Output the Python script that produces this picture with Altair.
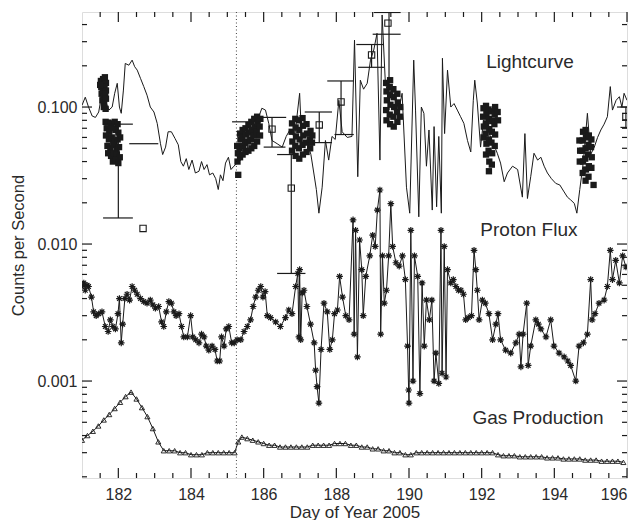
import altair as alt
import pandas as pd

# ---------------- data ----------------
lc_day = [181.00,181.09,181.18,181.28,181.37,181.46,181.53,181.64,181.74,181.83,181.90,181.97,182.03,182.08,182.14,182.19,
          182.29,182.38,182.45,182.52,182.61,182.70,182.79,182.88,182.98,183.07,183.16,183.22,183.30,183.37,183.46,183.56,
          183.65,183.72,183.79,183.87,183.94,184.03,184.12,184.22,184.29,184.36,184.44,184.51,184.60,184.68,184.75,184.81,
          184.88,184.95,185.03,185.10,185.18,185.27,185.37,185.46,185.55,185.64,185.73,185.83,185.95,186.05,186.14,186.23,
          186.37,186.51,186.62,186.72,186.85,186.99,187.05,187.19,187.30,187.38,187.45,187.52,187.61,187.70,187.79,187.88,
          187.97,188.07,188.16,188.30,188.43,188.50,188.59,188.66,188.75,188.85,188.94,189.03,189.12,189.20,189.26,189.35,
          189.45,189.55,189.65,189.72,189.81,189.93,190.02,190.13,190.18,190.27,190.34,190.41,190.48,190.55,190.64,190.69,
          190.76,190.82,190.89,190.92,190.98,191.06,191.15,191.24,191.33,191.42,191.51,191.61,191.70,191.77,191.81,191.88,
          191.97,192.05,192.15,192.25,192.35,192.43,192.52,192.62,192.71,192.85,192.99,193.12,193.19,193.26,193.35,193.44,
          193.54,193.63,193.72,193.81,193.92,194.04,194.15,194.27,194.36,194.45,194.55,194.62,194.70,194.80,194.91,195.00,
          195.10,195.19,195.28,195.37,195.46,195.54,195.60,195.70,195.79,195.86,195.92,196.00]
lc_val = [0.103,0.118,0.100,0.086,0.084,0.092,0.118,0.112,0.095,0.100,0.126,0.149,0.100,0.090,0.133,0.208,
          0.202,0.220,0.197,0.186,0.162,0.141,0.122,0.100,0.092,0.076,0.054,0.045,0.051,0.066,0.066,0.059,
          0.053,0.040,0.037,0.042,0.035,0.041,0.033,0.034,0.040,0.035,0.038,0.032,0.033,0.030,0.025,0.032,
          0.029,0.039,0.043,0.035,0.037,0.039,0.041,0.0485,0.054,0.061,0.072,0.080,0.098,0.095,0.076,0.057,
          0.054,0.051,0.061,0.068,0.060,0.126,0.055,0.057,0.045,0.033,0.025,0.0168,0.026,0.057,0.041,0.061,
          0.058,0.112,0.066,0.060,0.061,0.308,0.031,0.157,0.135,0.149,0.220,0.261,0.345,0.041,0.470,0.149,
          0.120,0.140,0.110,0.095,0.126,0.026,0.0168,0.220,0.095,0.0158,0.100,0.090,0.037,0.068,0.0177,0.072,
          0.0187,0.061,0.0168,0.227,0.064,0.186,0.100,0.106,0.095,0.085,0.076,0.057,0.047,0.112,0.157,0.107,
          0.051,0.080,0.070,0.060,0.052,0.046,0.039,0.0285,0.033,0.037,0.035,0.022,0.064,0.0215,0.031,0.046,
          0.041,0.043,0.037,0.033,0.030,0.0277,0.027,0.024,0.022,0.021,0.0198,0.0168,0.025,0.040,0.090,0.045,
          0.051,0.060,0.068,0.075,0.085,0.141,0.095,0.112,0.119,0.100,0.126,0.112]

pf_day = [181.00,181.05,181.09,181.14,181.18,181.26,181.32,181.39,181.46,181.55,181.64,181.72,181.78,181.85,181.92,181.99,
          182.03,182.08,182.12,182.18,182.24,182.31,182.38,182.45,182.52,182.61,182.70,182.79,182.88,182.95,183.02,183.11,
          183.19,183.25,183.32,183.39,183.46,183.53,183.59,183.67,183.74,183.80,183.90,183.99,184.05,184.13,184.22,184.29,
          184.36,184.42,184.49,184.58,184.66,184.72,184.79,184.84,184.91,184.97,185.04,185.12,185.19,185.27,185.37,185.46,
          185.55,185.64,185.71,185.78,185.85,185.92,185.98,186.04,186.10,186.19,186.33,186.46,186.60,186.69,186.78,186.88,
          186.94,186.97,186.99,187.02,187.06,187.11,187.19,187.29,187.39,187.43,187.47,187.52,187.58,187.66,187.75,187.82,
          187.89,187.95,188.03,188.09,188.17,188.26,188.35,188.46,188.49,188.53,188.58,188.64,188.70,188.74,188.81,188.92,
          189.00,189.07,189.13,189.20,189.22,189.27,189.32,189.38,189.44,189.50,189.55,189.64,189.73,189.82,189.90,189.96,
          189.99,190.00,190.05,190.11,190.15,190.24,190.30,190.36,190.42,190.48,190.56,190.63,190.69,190.74,190.82,190.88,
          190.91,190.97,191.02,191.06,191.15,191.22,191.29,191.36,191.43,191.50,191.56,191.63,191.72,191.79,191.84,191.88,
          191.93,192.02,192.10,192.20,192.30,192.39,192.45,192.52,192.66,192.80,192.94,193.03,193.08,193.14,193.24,193.28,
          193.35,193.49,193.56,193.63,193.77,193.90,193.99,194.13,194.27,194.37,194.45,194.59,194.68,194.80,194.91,195.00,
          195.04,195.12,195.23,195.37,195.46,195.54,195.60,195.69,195.79,195.88,195.97]
pf_val = [0.0049,0.0052,0.0046,0.0050,0.0049,0.0041,0.0032,0.0030,0.0031,0.0032,0.0025,0.0023,0.0028,0.0025,0.0024,0.0031,
          0.0040,0.0019,0.0026,0.0040,0.0043,0.0039,0.0049,0.0046,0.0043,0.0040,0.0038,0.0037,0.0039,0.0036,0.0034,0.0035,
          0.0027,0.0025,0.0032,0.0038,0.0037,0.0032,0.0030,0.0031,0.0025,0.0021,0.0021,0.0030,0.0021,0.0020,0.0019,0.0022,
          0.0021,0.0018,0.00168,0.0018,0.0017,0.0014,0.0014,0.0021,0.0018,0.0024,0.0025,0.0019,0.0019,0.0020,0.0020,0.0023,
          0.0025,0.0028,0.0035,0.0041,0.0046,0.0049,0.0041,0.0045,0.0030,0.0029,0.0027,0.0025,0.0029,0.0033,0.0031,0.0049,
          0.0061,0.0021,0.0065,0.0020,0.0044,0.0046,0.0035,0.0026,0.0019,0.0012,0.00091,0.00069,0.0017,0.0037,0.0032,0.0017,
          0.0020,0.0031,0.0033,0.0058,0.0041,0.0030,0.0028,0.015,0.0022,0.0126,0.0015,0.0107,0.0065,0.0030,0.0058,0.0082,
          0.0116,0.0096,0.0177,0.0248,0.0022,0.0082,0.0037,0.0046,0.0082,0.0197,0.0096,0.0073,0.0069,0.0082,0.0055,0.0018,
          0.00086,0.00069,0.0126,0.0010,0.0082,0.0058,0.00081,0.0052,0.0018,0.0039,0.0028,0.0039,0.0010,0.0016,0.00096,0.0126,
          0.00114,0.0096,0.00107,0.0065,0.0052,0.0055,0.0049,0.0046,0.0046,0.0043,0.0028,0.0029,0.0030,0.0090,0.0065,0.0046,
          0.0028,0.0039,0.0037,0.0031,0.0020,0.0026,0.0031,0.0020,0.00168,0.0016,0.0019,0.0022,0.00127,0.0022,0.0037,0.0013,
          0.0018,0.0028,0.0026,0.0024,0.0021,0.0028,0.0018,0.0016,0.0015,0.0014,0.0013,0.0010,0.0018,0.0019,0.0022,0.0055,
          0.0028,0.0031,0.0037,0.0039,0.0049,0.0090,0.0055,0.0076,0.0052,0.0082,0.0068]

gp_day = [181.00,181.15,181.30,181.45,181.60,181.75,181.90,182.05,182.20,182.35,182.50,182.65,182.80,182.95,183.10,183.25,
          183.40,183.55,183.70,183.85,184.00,184.15,184.30,184.45,184.60,184.75,184.90,185.05,185.20,185.30,185.40,185.55,
          185.70,185.85,186.00,186.15,186.30,186.45,186.60,186.75,186.90,187.05,187.20,187.35,187.50,187.65,187.80,187.95,
          188.10,188.25,188.40,188.55,188.70,188.85,189.00,189.15,189.30,189.45,189.60,189.75,189.90,190.05,190.20,190.35,
          190.50,190.65,190.80,190.95,191.10,191.25,191.40,191.55,191.70,191.85,192.00,192.15,192.30,192.45,192.60,192.75,
          192.90,193.05,193.20,193.35,193.50,193.65,193.80,193.95,194.10,194.25,194.40,194.55,194.70,194.85,195.00,195.15,
          195.30,195.45,195.60,195.75,195.90]
gp_val = [0.00037,0.00040,0.00043,0.00047,0.00052,0.00057,0.00063,0.00070,0.00077,0.00083,0.00074,0.00064,0.00055,0.00045,0.00036,0.00031,
          0.00031,0.00031,0.00030,0.00030,0.00029,0.00029,0.00029,0.00030,0.00030,0.00030,0.00030,0.00030,0.00030,0.00036,0.00039,0.00038,
          0.00037,0.00036,0.00035,0.00034,0.00034,0.00033,0.00033,0.00033,0.00033,0.00033,0.00033,0.00034,0.00034,0.00034,0.00034,0.00035,
          0.00035,0.00035,0.00034,0.00034,0.00033,0.00033,0.00032,0.00032,0.00031,0.00031,0.00030,0.00030,0.00029,0.00029,0.00030,0.00030,
          0.00030,0.00030,0.00030,0.00030,0.00030,0.00030,0.00030,0.00030,0.00030,0.00030,0.00030,0.00030,0.00030,0.00029,0.000285,0.000285,
          0.000285,0.00028,0.00028,0.00028,0.00028,0.00028,0.000275,0.000275,0.000275,0.00027,0.00027,0.00027,0.00027,0.000265,0.000265,0.000265,
          0.00026,0.00026,0.00026,0.00026,0.000255]

# filled squares (observation clusters)
obs_day = [181.52,181.55,181.58,181.62,181.66,181.53,181.57,181.62,181.66,181.54,181.59,181.64,181.56,181.61,181.66,181.60,181.65,181.50,181.63,
           181.65,181.72,181.80,181.90,181.98,181.68,181.75,181.83,181.92,182.00,181.66,181.74,181.82,181.90,181.98,182.05,181.70,181.78,181.86,
           181.95,182.02,181.72,181.80,181.88,181.96,182.04,181.85,181.93,182.00,
           185.28,185.29,185.27,185.35,185.34,185.36,185.35,185.42,185.43,185.41,185.42,185.50,185.49,185.51,185.50,185.58,185.57,185.59,185.58,
           185.66,185.65,185.67,185.66,185.74,185.73,185.75,185.74,185.82,185.81,185.83,185.82,185.90,185.89,185.91,185.30,
           186.78,186.79,186.77,186.78,186.88,186.87,186.89,186.88,186.87,186.98,186.97,186.99,186.98,186.97,187.08,187.07,187.09,187.08,187.07,
           187.18,187.17,187.19,187.18,187.28,187.27,187.29,187.33,187.34,
           189.38,189.37,189.39,189.38,189.37,189.48,189.47,189.49,189.48,189.47,189.48,189.58,189.57,189.59,189.58,189.57,189.68,189.67,189.69,
           189.68,189.75,189.76,
           192.05,192.06,192.04,192.05,192.12,192.13,192.11,192.12,192.13,192.12,192.20,192.21,192.19,192.20,192.21,192.20,192.19,192.28,192.29,
           192.27,192.28,192.29,192.28,192.36,192.37,192.35,192.36,192.37,192.45,192.44,
           194.70,194.71,194.69,194.78,194.79,194.77,194.78,194.79,194.86,194.87,194.85,194.86,194.87,194.86,194.94,194.95,194.93,194.94,194.95,
           195.02,195.03,195.01,195.02,195.08]
obs_val = [0.155,0.150,0.160,0.155,0.150,0.140,0.135,0.140,0.132,0.125,0.120,0.125,0.112,0.108,0.115,0.100,0.097,0.145,0.165,
           0.078,0.077,0.076,0.078,0.075,0.070,0.066,0.070,0.068,0.065,0.062,0.058,0.060,0.056,0.058,0.060,0.052,0.050,0.053,
           0.049,0.051,0.046,0.044,0.046,0.045,0.043,0.040,0.041,0.039,
           0.040,0.046,0.052,0.043,0.050,0.058,0.064,0.045,0.052,0.060,0.068,0.047,0.055,0.063,0.070,0.048,0.056,0.065,0.074,
           0.050,0.058,0.068,0.078,0.052,0.062,0.072,0.082,0.056,0.066,0.076,0.085,0.062,0.072,0.082,0.032,
           0.048,0.056,0.066,0.076,0.044,0.052,0.061,0.071,0.082,0.042,0.050,0.058,0.068,0.080,0.045,0.053,0.062,0.073,0.083,
           0.047,0.055,0.064,0.075,0.050,0.058,0.067,0.055,0.062,
           0.080,0.095,0.112,0.130,0.150,0.075,0.088,0.104,0.122,0.140,0.157,0.072,0.085,0.100,0.118,0.135,0.078,0.092,0.108,
           0.125,0.085,0.100,
           0.060,0.072,0.085,0.098,0.045,0.054,0.064,0.076,0.090,0.102,0.034,0.040,0.048,0.058,0.069,0.082,0.096,0.038,0.046,
           0.055,0.066,0.079,0.093,0.052,0.063,0.075,0.088,0.100,0.080,0.092,
           0.040,0.048,0.057,0.033,0.040,0.048,0.057,0.066,0.029,0.035,0.042,0.050,0.060,0.068,0.031,0.037,0.045,0.053,0.062,
           0.036,0.043,0.051,0.058,0.027]

# open squares with error bars
osq_day = [182.68, 186.23, 186.76, 187.53, 188.13, 188.97, 189.42, 195.97]
osq_val = [0.013, 0.069, 0.0256, 0.074, 0.109, 0.24, 0.41, 0.085]
vb_day = [182.0, 185.55, 186.23, 186.76, 187.53, 188.13, 188.97, 189.45, 195.97]
vb_lo = [0.0155, 0.050, 0.051, 0.0061, 0.055, 0.063, 0.195, 0.095, 0.071]
vb_hi = [0.075, 0.078, 0.084, 0.045, 0.092, 0.155, 0.286, 0.49, 0.100]
hb_val = [0.075, 0.0155, 0.054, 0.078, 0.084, 0.051, 0.045, 0.0061, 0.092, 0.055, 0.155, 0.063, 0.286, 0.195, 0.49, 0.34, 0.10, 0.071]
hb_start = [181.63, 181.58, 182.30, 185.13, 185.93, 186.00, 186.37, 186.37, 187.13, 187.35, 187.75, 187.95, 188.55, 188.60, 189.03, 189.00, 195.82, 195.82]
hb_end = [182.40, 182.40, 183.10, 185.93, 186.62, 186.60, 186.90, 187.15, 187.88, 187.88, 188.48, 188.48, 189.31, 189.31, 189.77, 189.77, 196.0, 196.0]

marker_day = [185.25]

lbl_text = ["Lightcurve", "Proton Flux", "Gas Production"]
lbl_day = [193.33, 193.30, 193.55]
lbl_val = [0.213, 0.0126, 0.000537]

x_major = [182, 184, 186, 188, 190, 192, 194, 196]
x_minor = [181.5, 182.5, 183, 183.5, 184.5, 185, 185.5, 186.5, 187, 187.5, 188.5, 189, 189.5,
           190.5, 191, 191.5, 192.5, 193, 193.5, 194.5, 195, 195.5]
y_major = [0.001, 0.01, 0.1]
y_minor = [0.0002, 0.0003, 0.0004, 0.0005, 0.0006, 0.0007, 0.0008, 0.0009,
           0.002, 0.003, 0.004, 0.005, 0.006, 0.007, 0.008, 0.009,
           0.02, 0.03, 0.04, 0.05, 0.06, 0.07, 0.08, 0.09, 0.2, 0.3, 0.4]

# ---------------- chart ----------------
W, H = 545, 466
FONT = "Liberation Sans"
INK = "#1a1a1a"
TXT = "#2a2a2a"

xs = alt.Scale(domain=[181, 196], nice=False, zero=False)
ys = alt.Scale(type="log", domain=[0.000196, 0.494], nice=False)

x_axis = alt.Axis(values=x_major, format="d", ticks=False, domain=False, grid=False,
                  labelFontSize=16, labelPadding=8, labelFont=FONT, labelColor=TXT,
                  title="Day of Year 2005", titleFontSize=17, titleFont=FONT, titleColor=TXT,
                  titleFontWeight="normal", titlePadding=2)
y_axis = alt.Axis(values=y_major, format=".3f", ticks=False, domain=False, grid=False,
                  labelFontSize=16, labelPadding=5, labelFont=FONT, labelColor=TXT,
                  title="Counts per Second", titleFontSize=16.5, titleFont=FONT, titleColor=TXT,
                  titleFontWeight="normal", titlePadding=10)

lc = pd.DataFrame({"day": lc_day, "val": lc_val})
pf = pd.DataFrame({"day": pf_day, "val": pf_val})
gp = pd.DataFrame({"day": gp_day, "val": gp_val})
obs = pd.DataFrame({"day": obs_day, "val": obs_val})
osq = pd.DataFrame({"day": osq_day, "val": osq_val})
vb = pd.DataFrame({"day": vb_day, "lo": vb_lo, "hi": vb_hi})
hb = pd.DataFrame({"val": hb_val, "d1": hb_start, "d2": hb_end})
mk = pd.DataFrame({"day": marker_day})
lbl = pd.DataFrame({"text": lbl_text, "day": lbl_day, "val": lbl_val})


def X(f):
    return alt.X(f, scale=xs, axis=x_axis)


def Y(f):
    return alt.Y(f, scale=ys, axis=y_axis)


asterisk = "M-1,0L1,0M0,-1L0,1M-0.7,-0.7L0.7,0.7M-0.7,0.7L0.7,-0.7"

layers = []
layers.append(alt.Chart(lc).mark_line(color=INK, strokeWidth=1, clip=True).encode(x=X("day:Q"), y=Y("val:Q")))
layers.append(alt.Chart(mk).mark_rule(color="#444", strokeWidth=1, strokeDash=[1, 2.5]).encode(
    x=X("day:Q"), y=alt.value(0), y2=alt.value(H)))
layers.append(alt.Chart(pf).mark_line(color=INK, strokeWidth=1, clip=True).encode(x=X("day:Q"), y=Y("val:Q")))
layers.append(alt.Chart(pf).mark_point(shape=asterisk, filled=False, color=INK, size=44, strokeWidth=1.2, opacity=1,
                                       clip=True).encode(x=X("day:Q"), y=Y("val:Q")))
layers.append(alt.Chart(gp).mark_line(color=INK, strokeWidth=1, clip=True).encode(x=X("day:Q"), y=Y("val:Q")))
layers.append(alt.Chart(gp).mark_point(shape="triangle-up", filled=False, color=INK, size=26, strokeWidth=0.9, opacity=1,
                                       clip=True).encode(x=X("day:Q"), y=Y("val:Q")))
layers.append(alt.Chart(obs).mark_square(color=INK, size=40, opacity=1, clip=True).encode(x=X("day:Q"), y=Y("val:Q")))
layers.append(alt.Chart(vb).mark_rule(color=INK, strokeWidth=1.2, clip=True).encode(
    x=X("day:Q"), y=Y("lo:Q"), y2="hi:Q"))
layers.append(alt.Chart(hb).mark_rule(color=INK, strokeWidth=1.2, clip=True).encode(
    x=X("d1:Q"), x2="d2:Q", y=Y("val:Q")))
layers.append(alt.Chart(osq).mark_square(filled=False, color=INK, size=40, strokeWidth=1.1, opacity=1, clip=True).encode(
    x=X("day:Q"), y=Y("val:Q")))
layers.append(alt.Chart(lbl).mark_text(font=FONT, fontSize=19, color=TXT, align="center", baseline="middle").encode(
    x=X("day:Q"), y=Y("val:Q"), text="text:N"))

# inward tick marks (box style)
xmaj = pd.DataFrame({"t": x_major})
xmin = pd.DataFrame({"t": x_minor})
ymaj = pd.DataFrame({"t": y_major})
ymin = pd.DataFrame({"t": y_minor})
for df, ln in ((xmaj, 10), (xmin, 5)):
    layers.append(alt.Chart(df).mark_rule(color=INK, strokeWidth=1.2).encode(x=X("t:Q"), y=alt.value(H), y2=alt.value(H - ln)))
    layers.append(alt.Chart(df).mark_rule(color=INK, strokeWidth=1.2).encode(x=X("t:Q"), y=alt.value(0), y2=alt.value(ln)))
for df, ln in ((ymaj, 10), (ymin, 5)):
    layers.append(alt.Chart(df).mark_rule(color=INK, strokeWidth=1.2).encode(y=Y("t:Q"), x=alt.value(0), x2=alt.value(ln)))
    layers.append(alt.Chart(df).mark_rule(color=INK, strokeWidth=1.2).encode(y=Y("t:Q"), x=alt.value(W), x2=alt.value(W - ln)))

chart = alt.layer(*layers).properties(
    width=W, height=H,
    autosize=alt.AutoSizeParams(type="none"),
    padding={"left": 82, "top": 12, "right": 14, "bottom": 42},
).configure_view(stroke=INK, strokeWidth=1.6).configure(background="white")

chart.save("out.html", embed_options={"renderer": "svg", "actions": False})
